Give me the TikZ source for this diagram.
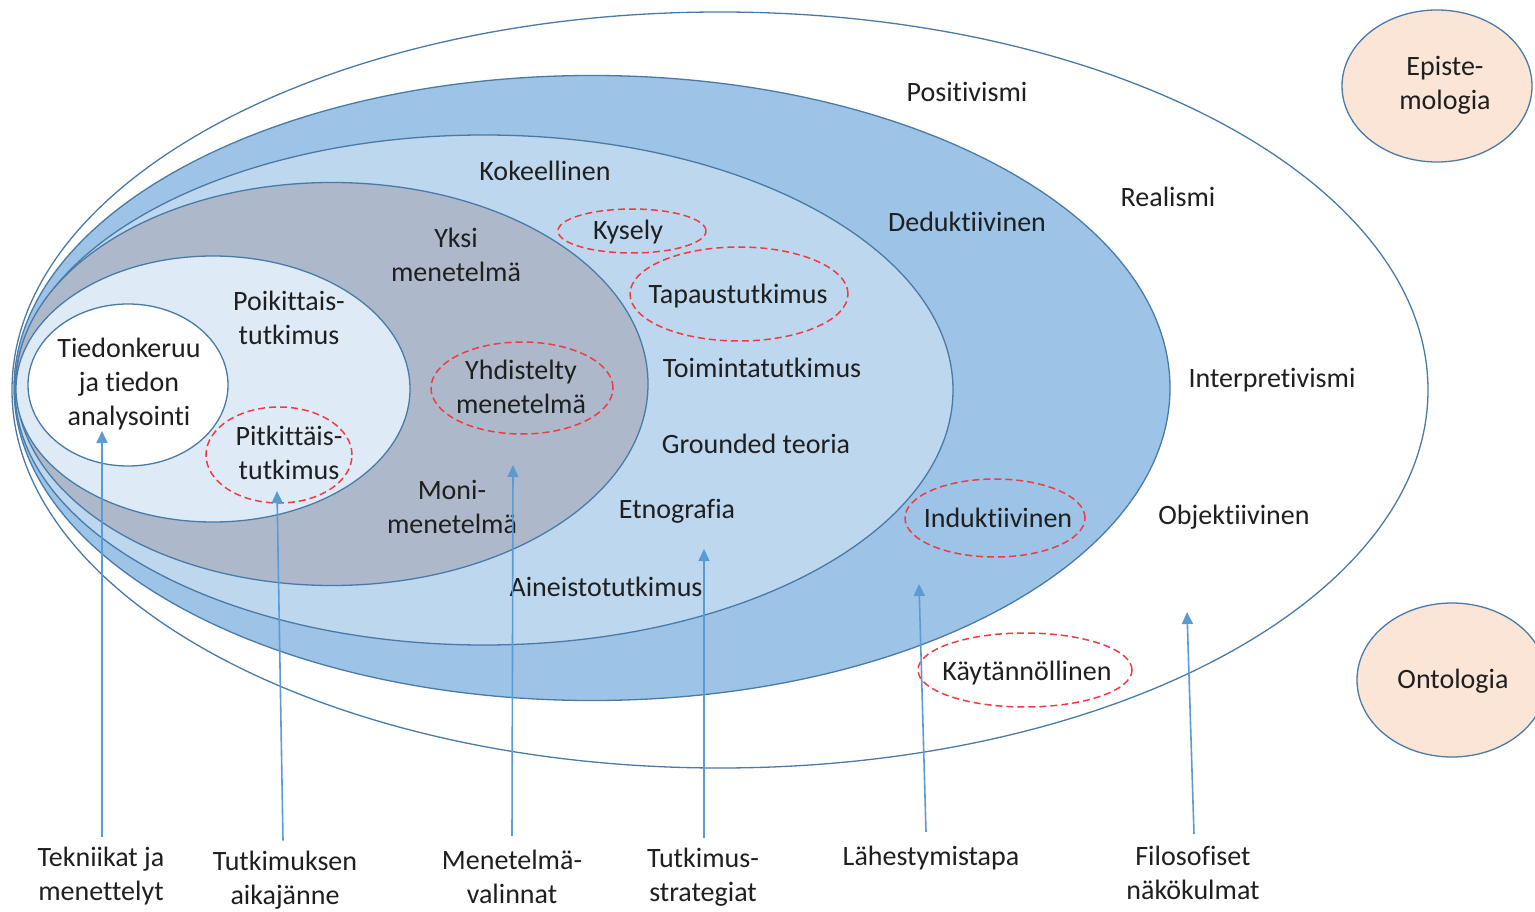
\documentclass[tikz,border=0pt]{standalone}
\usepackage{fontspec}
\setmainfont{Carlito}[RawFeature={-liga}]
\usetikzlibrary{shapes.geometric,arrows.meta}
\definecolor{ring}{HTML}{4A7AA6}
\definecolor{approach}{HTML}{9DC3E6}
\definecolor{strategy}{HTML}{BDD7EE}
\definecolor{choice}{HTML}{ADB9CA}
\definecolor{horizon}{HTML}{DEEBF7}
\definecolor{peach}{HTML}{FBE5D6}
\definecolor{redline}{HTML}{F23A45}
\definecolor{pointer}{HTML}{5B9BD5}
\definecolor{ink}{HTML}{1F1F1F}
\begin{document}
\begin{tikzpicture}[x=1pt,y=-1pt,
  font=\fontsize{28}{34}\selectfont,
  layer/.style={ellipse, draw=ring, line width=1.3pt, inner sep=0pt},
  dashring/.style={ellipse, draw=redline, dash pattern=on 7pt off 4pt, line width=1.5pt, inner sep=0pt},
  lbl/.style={align=center, text=ink, inner sep=0pt},
  pointerarrow/.style={draw=pointer, line width=1.6pt, -{Triangle[length=12pt,width=11pt]}}]
\useasboundingbox (0,0) rectangle (1535,912);

% nested layers of the onion
\node[layer, fill=white, minimum width=1416pt, minimum height=756pt] (philo) at (720,390) {};
\node[layer, fill=approach, minimum width=1156pt, minimum height=625pt] (appr) at (592,388) {};
\node[layer, fill=strategy, minimum width=938pt, minimum height=510pt] (strat) at (484,390) {};
\node[layer, fill=choice, minimum width=632pt, minimum height=403pt] (meth) at (332,384) {};
\node[layer, fill=horizon, minimum width=394pt, minimum height=266pt] (time) at (213,389) {};
\node[layer, fill=white, minimum width=200pt, minimum height=162pt] (core) at (128,385) {};
\node[lbl] (coret) at (129,384) {Tiedonkeruu\\ja tiedon\\analysointi};

% side circles
\node[layer, fill=peach, minimum width=190pt, minimum height=152pt] (epist) at (1437,86) {};
\node[lbl] (epistt) at (1445,85) {Episte-\\mologia};
\node[layer, fill=peach, minimum width=190pt, minimum height=154pt] (ontol) at (1452,680) {};
\node[lbl] (ontolt) at (1453,681) {Ontologia};

% highlighted choices
\node[dashring, minimum width=148pt, minimum height=44pt] (kysr) at (632,231) {};
\node[dashring, minimum width=218pt, minimum height=94pt] (tapr) at (739,294) {};
\node[dashring, minimum width=182pt, minimum height=92pt] (yhdr) at (522,388) {};
\node[dashring, minimum width=146pt, minimum height=96pt] (pitr) at (279,455) {};
\node[dashring, minimum width=180pt, minimum height=78pt] (indr) at (995,518) {};
\node[dashring, minimum width=214pt, minimum height=74pt] (kayr) at (1025,670) {};

% philosophical perspectives
\node[lbl] (pos) at (967,92) {Positivismi};
\node[lbl] (rea) at (1168,197) {Realismi};
\node[lbl] (int) at (1272,380) {Interpretivismi};
\node[lbl] (obj) at (1234,517) {Objektiivinen};
\node[lbl] (kay) at (1027,673) {Käytännöllinen};

% approaches
\node[lbl] (ded) at (967,222) {Deduktiivinen};
\node[lbl] (ind) at (998,518) {Induktiivinen};

% strategies
\node[lbl] (kok) at (545,171) {Kokeellinen};
\node[lbl] (kys) at (628,232) {Kysely};
\node[lbl] (tap) at (738,296) {Tapaustutkimus};
\node[lbl] (toi) at (762,368) {Toimintatutkimus};
\node[lbl] (gro) at (756,444) {Grounded teoria};
\node[lbl] (etn) at (677,511) {Etnografia};
\node[lbl] (ain) at (606,587) {Aineistotutkimus};

% method choices
\node[lbl] (yksi) at (456,255) {Yksi\\menetelmä};
\node[lbl] (yhd) at (521,387) {Yhdistelty\\menetelmä};
\node[lbl] (moni) at (452,507) {Moni-\\menetelmä};

% time horizons
\node[lbl] (poik) at (289,318) {Poikittais-\\tutkimus};
\node[lbl] (pitk) at (289,453) {Pitkittäis-\\tutkimus};

% layer captions
\node[lbl] (c1) at (101,876) {Tekniikat ja\\menettelyt};
\node[lbl] (c2) at (285,880) {Tutkimuksen\\aikajänne};
\node[lbl] (c3) at (512,877) {Menetelmä-\\valinnat};
\node[lbl] (c4) at (703,877) {Tutkimus-\\strategiat};
\node[lbl] (c5) at (931,858) {Lähestymistapa};
\node[lbl] (c6) at (1193,873) {Filosofiset\\näkökulmat};

% arrow tips
\coordinate (t1) at (102,431);
\coordinate (t2) at (277,491);
\coordinate (t3) at (513,465);
\coordinate (t4) at (704,549);
\coordinate (t5) at (919,584);
\coordinate (t6) at (1187,612);

\draw[pointerarrow] (c1.north -| t1) ++(0,-10) -- (t1);
\draw[pointerarrow] (c2.north) ++(-2,-10) -- (t2);
\draw[pointerarrow] (c3.north) ++(0,-14) -- (t3);
\draw[pointerarrow] (c4.north) ++(1,-10) -- (t4);
\draw[pointerarrow] (c5.north) ++(-5,-14) -- (t5);
\draw[pointerarrow] (c6.north) ++(1,-12) -- (t6);
\end{tikzpicture}
\end{document}
